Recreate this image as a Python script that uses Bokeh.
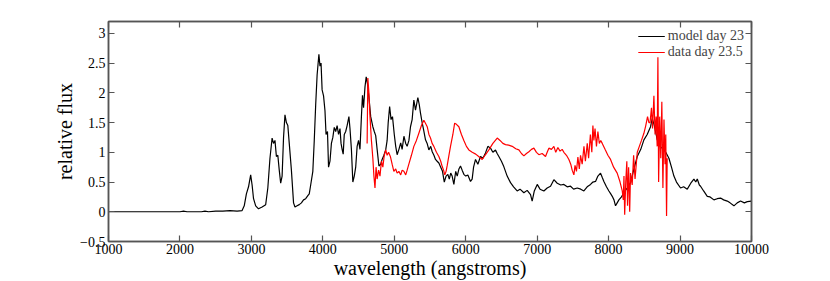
from bokeh.plotting import figure
from bokeh.models import Range1d, LinearAxis, FixedTicker, Legend, LegendItem
from bokeh.embed import file_html
from bokeh.resources import INLINE

# ---- data ----
model_wave = [1000, 1500, 2000, 2050, 2100, 2300, 2350, 2400, 2500, 2600, 2700, 2800, 2870,
              2900, 2930, 2960, 2990, 3010, 3030, 3060, 3100, 3150, 3200, 3230, 3260, 3290,
              3310, 3330, 3350, 3370, 3390, 3410, 3430, 3450, 3470, 3490, 3510, 3530, 3560,
              3590, 3610, 3640, 3670, 3700, 3730, 3760, 3790, 3810, 3830, 3860, 3880, 3900,
              3920, 3945, 3960, 3975, 3990, 4010, 4030, 4045, 4065, 4080, 4100, 4120, 4140,
              4160, 4180, 4200, 4220, 4240, 4255, 4270, 4285, 4300, 4320, 4340, 4365, 4380,
              4400, 4420, 4440, 4460, 4480, 4500, 4520, 4540, 4555, 4570, 4590, 4607, 4625,
              4645, 4670, 4700, 4720, 4740, 4760, 4785, 4810, 4830, 4855, 4880, 4900, 4915,
              4935, 4955, 4975, 5000, 5020, 5040, 5065, 5090, 5110, 5135, 5160, 5180, 5205,
              5227, 5250, 5274, 5297, 5330, 5350, 5367, 5390, 5410, 5437, 5460, 5484, 5510,
              5531, 5555, 5577, 5600, 5624, 5650, 5675, 5700, 5725, 5750, 5770, 5790, 5810,
              5834, 5860, 5881, 5905, 5927, 5950, 5974, 6000, 6030, 6067, 6090, 6110, 6137,
              6170, 6207, 6240, 6277, 6310, 6347, 6380, 6417, 6440, 6464, 6500, 6533, 6580,
              6627, 6670, 6720, 6760, 6814, 6860, 6907, 6930, 6960, 7001, 7040, 7094, 7140,
              7187, 7234, 7281, 7330, 7374, 7420, 7467, 7510, 7561, 7610, 7654, 7700, 7747,
              7780, 7817, 7850, 7887, 7910, 7934, 7970, 8004, 8030, 8051, 8075, 8097, 8120,
              8144, 8180, 8214, 8260, 8307, 8350, 8401, 8450, 8494, 8540, 8587, 8611, 8640,
              8681, 8720, 8774, 8800, 8844, 8880, 8914, 8950, 9007, 9050, 9101, 9150, 9194,
              9220, 9241, 9270, 9287, 9330, 9381, 9420, 9474, 9520, 9567, 9610, 9661, 9700,
              9754, 9800, 9847, 9900, 9941, 10000]
model_flux = [0, 0, 0, 0.01, 0, 0, 0.01, 0, 0.01, 0.01, 0.02, 0.01, 0.02,
              0.1, 0.3, 0.42, 0.62, 0.45, 0.22, 0.1, 0.05, 0.08, 0.12, 0.4, 0.9, 1.24,
              1.15, 1.2, 0.93, 0.95, 0.7, 0.48, 0.6, 1.25, 1.63, 1.5, 1.45, 1.15, 0.7,
              0.15, 0.08, 0.1, 0.12, 0.15, 0.2, 0.22, 0.27, 0.3, 0.45, 0.68, 1.2, 1.8,
              2.3, 2.65, 2.45, 2.5, 2.05, 1.95, 1.7, 1.3, 1.35, 0.75, 0.85, 1.15, 1.25,
              1.42, 1.35, 1.45, 1.3, 1.4, 1.15, 1.05, 0.97, 1.3, 1.35, 1.45, 1.6, 1.4,
              1.05, 0.5, 0.6, 0.75, 1.1, 1.2, 1.05, 1.6, 1.96, 1.75, 2.1, 2.27, 2.15,
              1.93, 1.6, 1.43, 1.35, 1.28, 1.05, 0.77, 0.8, 0.88, 0.95, 1.04, 1.2, 1.5,
              1.77, 1.55, 1.6, 1.3, 1.1, 0.96, 1.05, 1.16, 1.05, 1.27, 1.15, 1.1, 1.2,
              1.43, 1.55, 1.88, 1.71, 1.92, 1.8, 1.66, 1.5, 1.38, 1.21, 1.15, 1.04, 1.1,
              1.01, 0.95, 0.88, 0.85, 0.82, 0.75, 0.68, 0.5, 0.6, 0.63, 0.55, 0.65, 0.6,
              0.46, 0.68, 0.6, 0.72, 0.77, 0.7, 0.63, 0.6, 0.62, 0.51, 0.55, 0.75, 0.88,
              0.8, 0.93, 0.9, 0.99, 1.1, 1.07, 1.0, 1.04, 0.98, 0.93, 0.85, 0.76, 0.6,
              0.49, 0.42, 0.35, 0.38, 0.32, 0.36, 0.29, 0.18, 0.35, 0.46, 0.38, 0.35, 0.4,
              0.43, 0.54, 0.48, 0.45, 0.46, 0.42, 0.43, 0.38, 0.4, 0.38, 0.35, 0.42, 0.46,
              0.5, 0.51, 0.6, 0.65, 0.58, 0.51, 0.42, 0.35, 0.3, 0.26, 0.2, 0.1, 0.15,
              0.2, 0.25, 0.32, 0.4, 0.49, 0.7, 0.93, 1.05, 1.21, 1.3, 1.43, 1.57, 1.45,
              1.21, 1.1, 1.04, 1.0, 0.9, 0.75, 0.6, 0.5, 0.4, 0.42, 0.38, 0.48, 0.55,
              0.5, 0.55, 0.45, 0.43, 0.35, 0.26, 0.25, 0.2, 0.22, 0.23, 0.2, 0.18, 0.15,
              0.1, 0.15, 0.18, 0.15, 0.17, 0.18]

data_wave = [4620, 4630, 4645, 4660, 4680, 4700, 4715, 4730, 4745, 4760, 4780, 4800, 4820,
             4840, 4860, 4880, 4900, 4920, 4945, 4970, 4994, 5020, 5040, 5064, 5090, 5110,
             5134, 5160, 5180, 5204, 5240, 5274, 5310, 5344, 5380, 5414, 5440, 5461, 5485,
             5507, 5530, 5554, 5590, 5624, 5650, 5671, 5690, 5707, 5725, 5741, 5765, 5787,
             5820, 5845, 5870, 5904, 5940, 5974, 6010, 6044, 6091, 6140, 6190, 6231, 6270,
             6324, 6380, 6441, 6480, 6520, 6557, 6600, 6651, 6700, 6744, 6780, 6814, 6850,
             6884, 6920, 6954, 6990, 7024, 7070, 7117, 7140, 7164, 7200, 7234, 7260, 7290,
             7320, 7350, 7374, 7410, 7444, 7470, 7490, 7514, 7530, 7550, 7570, 7590, 7607,
             7630, 7655, 7675, 7701, 7720, 7745, 7765, 7780, 7794, 7810, 7830, 7850, 7870,
             7890, 7911, 7950, 7990, 8027, 8070, 8120, 8160, 8191, 8205, 8215, 8225, 8240,
             8255, 8265, 8280, 8295, 8307, 8330, 8350, 8370, 8401, 8430, 8460, 8494, 8520,
             8545, 8564, 8580, 8600, 8615, 8634, 8650, 8665, 8680, 8690, 8700, 8715, 8730,
             8745, 8760, 8775, 8790, 8800, 8811, 8820]
data_flux = [1.15, 2.25, 2.0, 1.6, 1.2, 0.9, 0.6, 0.4, 0.75, 0.55, 0.7, 0.6, 0.85,
             0.75, 0.95, 1.04, 0.95, 1.0, 0.93, 0.8, 0.68, 0.72, 0.65, 0.68, 0.62, 0.7,
             0.68, 0.62, 0.7, 0.8, 0.95, 1.1, 1.2, 1.32, 1.45, 1.54, 1.48, 1.43, 1.3,
             1.24, 1.15, 1.1, 1.0, 0.93, 0.85, 0.76, 0.7, 0.62, 0.68, 0.78, 0.95, 1.1,
             1.3, 1.49, 1.47, 1.43, 1.3, 1.2, 1.1, 1.04, 1.0, 0.97, 0.92, 0.88, 0.95,
             1.04, 1.15, 1.24, 1.2, 1.15, 1.13, 1.12, 1.1, 1.06, 1.04, 0.98, 0.94, 0.98,
             1.01, 1.05, 1.07, 1.0, 0.96, 0.98, 0.93, 1.0, 1.07, 1.05, 1.1, 1.0, 1.08,
             1.02, 1.05, 1.0, 0.95, 0.88, 0.8, 0.7, 0.62, 0.78, 0.68, 0.92, 0.72, 0.95,
             0.8, 1.1, 0.85, 1.15, 0.9, 1.3, 1.0, 1.45, 1.2, 1.4, 1.1, 1.35, 1.15,
             1.2, 1.15, 1.05, 0.95, 0.88, 0.75, 0.65, 0.5, 0.35, 0.2, 0.6, -0.05, 0.5,
             0.85, 0.1, 0.75, 0.0, 0.65, 0.45, 0.95, 0.55, 1.0, 1.1, 1.2, 1.32, 1.45,
             1.6, 1.5, 1.5, 1.75, 1.4, 1.95, 1.3, 1.6, 1.1, 2.6, 0.5, 1.6, 0.9,
             1.85, 0.4, 1.55, 0.8, 1.3, -0.07, 0.9]

x_ticks = [1000, 2000, 3000, 4000, 5000, 6000, 7000, 8000, 9000, 10000]
y_ticks = [-0.5, 0, 0.5, 1, 1.5, 2, 2.5, 3]
y_tick_labels = ["\u22120.5", "0", "0.5", "1", "1.5", "2", "2.5", "3"]

legend_labels = ["model day 23", "data day 23.5"]

FONT = "Liberation Serif"
FRAME = "#555555"

p = figure(width=830, height=281, output_backend="svg", toolbar_location=None,
           x_range=Range1d(1000, 10000), y_range=Range1d(-0.5, 3.2),
           min_border_left=108, min_border_right=79, min_border_top=21,
           min_border_bottom=38,
           x_axis_label="wavelength (angstroms)", y_axis_label="relative flux")
p.grid.visible = False
p.outline_line_color = FRAME
p.outline_line_width = 1.5
p.background_fill_color = "white"
p.border_fill_color = "white"

r_model = p.line(model_wave, model_flux, line_color="black", line_width=1.2)
r_data = p.line(data_wave, data_flux, line_color="#ff0000", line_width=1.2)

def style_axis(ax, show_labels):
    ax.axis_line_color = FRAME
    ax.axis_line_width = 1.5
    ax.major_tick_line_color = FRAME
    ax.major_tick_line_width = 1.2
    ax.major_tick_in = 6
    ax.major_tick_out = 0
    ax.minor_tick_line_color = None
    ax.major_label_text_font = FONT
    ax.axis_label_text_font = FONT
    ax.axis_label_text_font_style = "normal"
    ax.axis_label_text_color = "black"
    ax.major_label_text_color = "black" if show_labels else None
    if not show_labels:
        ax.major_label_standoff = 0

xa = p.xaxis[0]
xa.ticker = FixedTicker(ticks=x_ticks)
style_axis(xa, True)
xa.major_label_text_font_size = "14px"
xa.major_label_standoff = 2
xa.axis_label_text_font_size = "20px"
xa.axis_label_standoff = 0

ya = p.yaxis[0]
ya.ticker = FixedTicker(ticks=y_ticks)
ya.major_label_overrides = {t: s for t, s in zip(y_ticks, y_tick_labels)}
style_axis(ya, True)
ya.major_label_text_font_size = "14px"
ya.major_label_standoff = 3
ya.axis_label_text_font_size = "20px"
ya.axis_label_standoff = 1

top = LinearAxis(ticker=FixedTicker(ticks=x_ticks))
style_axis(top, False)
p.add_layout(top, "above")
right = LinearAxis(ticker=FixedTicker(ticks=y_ticks))
style_axis(right, False)
p.add_layout(right, "right")

legend = Legend(items=[LegendItem(label=legend_labels[0], renderers=[r_model]),
                       LegendItem(label=legend_labels[1], renderers=[r_data])],
                location="top_right")
legend.border_line_color = None
legend.background_fill_alpha = 0
legend.label_text_font = FONT
legend.label_text_font_size = "14px"
legend.glyph_width = 27
legend.glyph_height = 12
legend.label_height = 12
legend.spacing = -2
legend.padding = 0
legend.margin = 7
legend.label_standoff = 3
p.add_layout(legend)

open("out.html", "w").write(file_html(p, INLINE))
